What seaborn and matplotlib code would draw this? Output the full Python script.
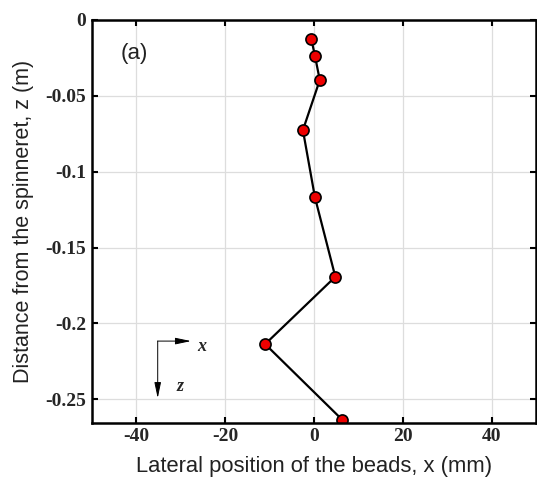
import matplotlib
matplotlib.use("Agg")
import matplotlib.pyplot as plt
import seaborn as sns
import pandas as pd

# Data
x_mm = [-0.6, 0.2, 1.3, -2.5, 0.2, 4.8, -11.0, 6.4]
z_m = [-0.0127, -0.0235, -0.0396, -0.0726, -0.1168, -0.1693, -0.2137, -0.2637]
x_ticks = [-40, -20, 0, 20, 40]
y_ticks = [0, -0.05, -0.1, -0.15, -0.2, -0.25]
y_tick_labels = ["0", "-0.05", "-0.1", "-0.15", "-0.2", "-0.25"]

sns.set_theme(style="white")
plt.rcParams["axes.unicode_minus"] = False
plt.rcParams["font.family"] = ["Liberation Sans", "DejaVu Sans"]

fig = plt.figure(figsize=(5.37, 4.78), dpi=100)
ax = fig.add_axes([0.1713, 0.1157, 0.8269, 0.8425])

df = pd.DataFrame({"x": x_mm, "z": z_m})
sns.lineplot(data=df, x="x", y="z", sort=False, estimator=None, ax=ax,
             color="black", linewidth=1.6, marker="o", markersize=8,
             markerfacecolor="#ee0000", markeredgecolor="black",
             markeredgewidth=1.2)

ax.set_xlim(-50, 50)
ax.set_ylim(-0.2655, 0)
ax.set_xticks(x_ticks)
ax.set_xticklabels([str(t) for t in x_ticks])
ax.set_yticks(y_ticks)
ax.set_yticklabels(y_tick_labels)
for lab in ax.get_xticklabels() + ax.get_yticklabels():
    lab.set_fontfamily(["Liberation Serif", "DejaVu Serif"])
    lab.set_fontweight("bold")
    lab.set_fontsize(14)

ax.grid(True, color="#dddddd", linewidth=0.9)
ax.tick_params(direction="in", length=4, width=1.5, color="black",
               top=True, right=True, bottom=True, left=True, pad=4)
for s in ax.spines.values():
    s.set_color("black")
    s.set_linewidth(1.8)

ax.set_xlabel("Lateral position of the beads, x (mm)", fontsize=15.8,
              color="#222222", labelpad=8)
ax.set_ylabel("Distance from the spinneret, z (m)", fontsize=15.5,
              color="#222222", labelpad=8)

ax.text(-40.5, -0.022, "(a)", fontsize=16, ha="center", va="center",
        color="#222222")

# coordinate sketch
ax.annotate("", xy=(-27.7, -0.2117), xytext=(-35.2, -0.2117),
            arrowprops=dict(arrowstyle="-|>,head_length=0.95,head_width=0.2",
                            color="black", lw=0.7, mutation_scale=10,
                            shrinkA=0, shrinkB=0))
ax.annotate("", xy=(-35.2, -0.2493), xytext=(-35.2, -0.2117),
            arrowprops=dict(arrowstyle="-|>,head_length=0.95,head_width=0.2",
                            color="black", lw=0.7, mutation_scale=10,
                            shrinkA=0, shrinkB=0))
ax.text(-25.4, -0.2150, "x", fontsize=13, style="italic", fontweight="bold",
        family=["Liberation Serif", "DejaVu Serif"], ha="center", va="center")
ax.text(-30.1, -0.2414, "z", fontsize=13, style="italic", fontweight="bold",
        family=["Liberation Serif", "DejaVu Serif"], ha="center", va="center")

fig.savefig("out.png", dpi=100)
